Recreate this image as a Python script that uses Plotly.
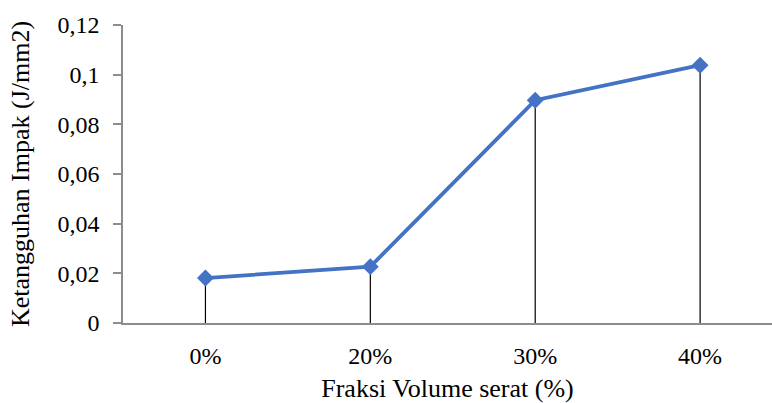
import plotly.graph_objects as go

categories = ["0%", "20%", "30%", "40%"]
values = [0.0181, 0.0227, 0.0897, 0.1038]
y_ticks = [0, 0.02, 0.04, 0.06, 0.08, 0.1, 0.12]
y_tick_labels = ["0", "0,02", "0,04", "0,06", "0,08", "0,1", "0,12"]

FONT = "Liberation Serif, Times New Roman, serif"
FS = 24
FT = 26

fig = go.Figure()
fig.add_trace(go.Scatter(
    x=categories, y=values, mode="lines+markers",
    line=dict(color="#4472C4", width=3.8),
    marker=dict(symbol="diamond", size=13, color="#4472C4"),
    error_y=dict(type="data", symmetric=False, array=[0] * len(values),
                 arrayminus=values, color="black", thickness=1.2, width=0),
    showlegend=False,
))

fig.update_layout(
    width=772, height=403,
    margin=dict(l=122.5, r=0, t=25, b=80),
    paper_bgcolor="white", plot_bgcolor="white",
    font=dict(family=FONT, size=FS, color="black"),
    xaxis=dict(
        type="category", range=[-0.5, 3.436], automargin=False,
        showline=True, linecolor="#8c8c8c", linewidth=1.5,
        showgrid=False, ticks="", ticklabelstandoff=10,
        title=dict(text="Fraksi Volume serat (%)", standoff=15,
                   font=dict(family=FONT, size=FT)),
        tickfont=dict(family=FONT, size=FS),
    ),
    yaxis=dict(
        range=[0, 0.12], tickvals=y_ticks, ticktext=y_tick_labels,
        automargin=False,
        showline=True, linecolor="#8c8c8c", linewidth=1.5,
        showgrid=False, zeroline=False,
        ticks="outside", ticklen=8, tickcolor="#8c8c8c", tickwidth=1.5,
        ticklabelstandoff=9,
        title=dict(text="Ketangguhan Impak (J/mm2)", standoff=20,
                   font=dict(family=FONT, size=FT)),
        tickfont=dict(family=FONT, size=FS),
    ),
)

fig.write_html("out.html", config={"displayModeBar": False},
               post_script="document.body.style.margin='0';document.body.style.overflow='hidden';")
